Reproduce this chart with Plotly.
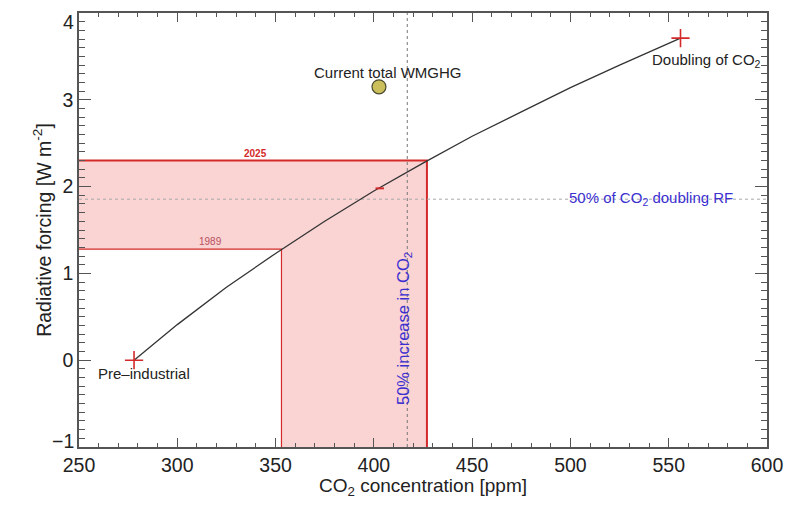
import plotly.graph_objects as go

# CO2 radiative forcing curve
co2_ppm = [278, 300, 325, 350, 375, 400, 425, 450, 475, 500, 525, 556]
rf_wm2 = [0.00, 0.41, 0.84, 1.23, 1.60, 1.95, 2.27, 2.58, 2.86, 3.14, 3.40, 3.71]

# marked points
marks_x = [278, 556]
marks_y = [0.0, 3.71]
wmghg_x = [402.6]
wmghg_y = [3.15]
small_mark_x = [403]
small_mark_y = [1.98]

# 1989 and 2025 reference values
ppm_1989, rf_1989 = 353, 1.28
ppm_2025, rf_2025 = 427, 2.30

half_doubling_rf = 1.855
half_increase_ppm = 417

x_min, x_max = 250, 600
y_min, y_max = -1, 4

red = "#d42a2a"
blue = "#3b2fd0"
axc = "#555555"
fnt = "Liberation Sans, Arial, sans-serif"

fig = go.Figure()

# pink L-shaped area
fig.add_trace(go.Scatter(
    x=[x_min, ppm_2025, ppm_2025, ppm_1989, ppm_1989, x_min, x_min],
    y=[rf_2025, rf_2025, y_min, y_min, rf_1989, rf_1989, rf_2025],
    mode="lines", fill="toself", fillcolor="rgba(242,150,150,0.42)",
    line=dict(width=0), hoverinfo="skip", showlegend=False))

# 2025 borders (thicker)
fig.add_trace(go.Scatter(
    x=[x_min, ppm_2025, ppm_2025], y=[rf_2025, rf_2025, y_min],
    mode="lines", line=dict(color=red, width=2), showlegend=False))
# 1989 borders (thinner)
fig.add_trace(go.Scatter(
    x=[x_min, ppm_1989, ppm_1989], y=[rf_1989, rf_1989, y_min],
    mode="lines", line=dict(color=red, width=1.2), showlegend=False))

# dotted reference lines
fig.add_trace(go.Scatter(
    x=[x_min, x_max], y=[half_doubling_rf, half_doubling_rf],
    mode="lines", line=dict(color="#a8a8a8", width=1, dash="dot"), showlegend=False))
fig.add_trace(go.Scatter(
    x=[half_increase_ppm, half_increase_ppm], y=[y_min, y_max],
    mode="lines", line=dict(color="#777777", width=1, dash="dot"), showlegend=False))

# forcing curve
fig.add_trace(go.Scatter(
    x=co2_ppm, y=rf_wm2, mode="lines", line=dict(color="#333333", width=1.3),
    showlegend=False))

# tiny red tick on the curve
fig.add_trace(go.Scatter(
    x=small_mark_x, y=small_mark_y, mode="markers",
    marker=dict(symbol="line-ew", size=6, line=dict(color=red, width=2)),
    showlegend=False))

# crosses
fig.add_trace(go.Scatter(
    x=marks_x, y=marks_y, mode="markers",
    marker=dict(symbol="cross-thin", size=13, line=dict(color=red, width=1.6)),
    showlegend=False))

# current WMGHG dot
fig.add_trace(go.Scatter(
    x=wmghg_x, y=wmghg_y, mode="markers",
    marker=dict(size=14, color="#cbbf5c", line=dict(color="#4a4a30", width=1.2)),
    showlegend=False))

# empty trace carrying the mirrored top/right axes
fig.add_trace(go.Scatter(x=[x_min], y=[y_min], xaxis="x2", yaxis="y2",
                         mode="markers", marker=dict(opacity=0),
                         hoverinfo="skip", showlegend=False))

anns = [
    dict(x=407, y=3.31, text="Current total WMGHG", font=dict(size=15, color="#222")),
    dict(x=569, y=3.45, text="Doubling of CO<sub>2</sub>", font=dict(size=15, color="#222")),
    dict(x=283, y=-0.15, text="Pre\u2013industrial", font=dict(size=15, color="#222")),
    dict(x=541, y=1.86, text="50% of CO<sub>2</sub> doubling RF", font=dict(size=15, color=blue)),
    dict(x=415.3, y=0.37, text="50% increase in CO<sub>2</sub>", textangle=-90,
         font=dict(size=16.5, color=blue)),
    dict(x=340, y=2.38, text="<b>2025</b>", font=dict(size=10, color=red)),
    dict(x=317, y=1.37, text="1989", font=dict(size=10, color="#b8505e")),
]
for a in anns:
    fig.add_annotation(xref="x", yref="y", showarrow=False, **a)

# end labels of the y axis sit a little inside, as in the original
fig.add_annotation(xref="paper", yref="y", x=0, y=y_max, xanchor="right", xshift=-3,
                   yshift=-9, text="4", showarrow=False,
                   font=dict(size=19.5, color="#222"))
fig.add_annotation(xref="paper", yref="y", x=0, y=y_min, xanchor="right", xshift=-3,
                   yshift=6, text="\u22121", showarrow=False,
                   font=dict(size=19.5, color="#222"))

axis_common = dict(
    showline=True, linecolor=axc, linewidth=1.5, mirror=True,
    ticks="inside", tickcolor=axc, showgrid=False, zeroline=False,
    tickfont=dict(size=19.5, color="#222"), automargin=False,
)

# the page body adds 8px around the figure, so the figure is sized to fit inside
fig.update_layout(
    width=784, height=491,
    margin=dict(l=71, r=25, t=5, b=52),
    paper_bgcolor="white", plot_bgcolor="white",
    font=dict(family=fnt),
    xaxis=dict(
        range=[x_min, x_max], dtick=50, ticklen=9,
        minor=dict(dtick=10, ticks="inside", ticklen=4, tickcolor=axc),
        title=dict(text="CO<sub>2</sub> concentration [ppm]",
                   font=dict(size=19, color="#222"), standoff=2),
        **axis_common),
    yaxis=dict(
        range=[y_min, y_max], dtick=1, ticklen=12,
        labelalias={"4": " ", "\u22121": " "},
        minor=dict(dtick=0.1, ticks="inside", ticklen=6, tickcolor=axc),
        title=dict(text="Radiative forcing [W m<sup>-2</sup>]",
                   font=dict(size=19.5, color="#222"), standoff=6),
        **axis_common),
    xaxis2=dict(
        overlaying="x", side="top", range=[x_min, x_max], dtick=50, ticklen=9,
        ticks="inside", tickcolor=axc, showticklabels=False, showgrid=False,
        zeroline=False, showline=False, automargin=False,
        minor=dict(dtick=10, ticks="inside", ticklen=4, tickcolor=axc)),
    yaxis2=dict(
        overlaying="y", side="right", range=[y_min, y_max], dtick=1, ticklen=12,
        ticks="inside", tickcolor=axc, showticklabels=False, showgrid=False,
        zeroline=False, showline=False, automargin=False,
        minor=dict(dtick=0.1, ticks="inside", ticklen=6, tickcolor=axc)),
)

fig.write_html("out.html")
